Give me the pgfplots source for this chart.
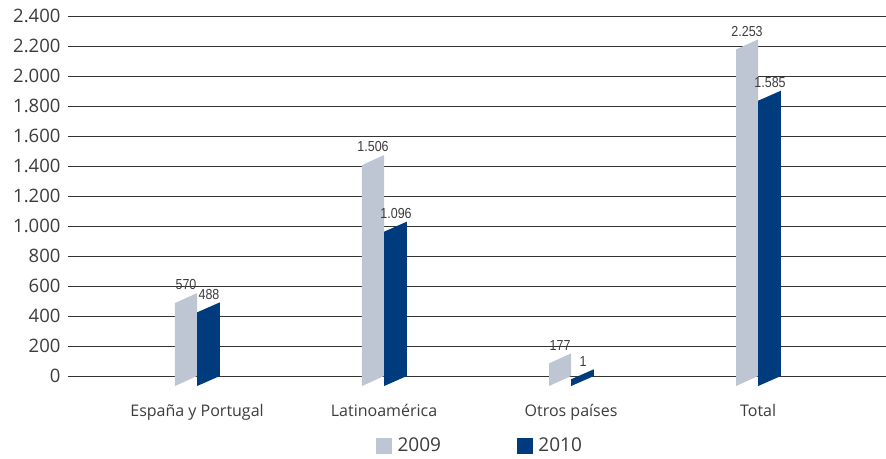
\documentclass[border=0pt]{standalone}
\usepackage{fontspec}
\setmainfont{Open Sans}
\newfontfamily\condfont[FakeStretch=0.86]{Liberation Sans}
\usepackage{pgfplots}
\usepackage{pgfplotstable}
\pgfplotsset{compat=1.18}
\definecolor{cgray}{HTML}{BEC6D4}
\definecolor{cblue}{HTML}{003C7D}
\definecolor{gridc}{HTML}{333333}
\definecolor{txt}{HTML}{3C3C3C}

% bar heights as drawn in the picture, and the printed labels
\pgfplotstableread{
idx h2009 h2010 l2009 l2010
0 553 491 570 488
1 1473 1029 1.506 1.096
2 151 45 177 1
3 2244 1902 2.253 1.585
}\data

\begin{document}
\begin{tikzpicture}[x=1pt,y=1pt]
\useasboundingbox (0,0) rectangle (886,458);
\begin{axis}[
  at={(68pt,82pt)}, anchor=south west,
  scale only axis, width=818pt, height=360pt,
  xmin=-0.69, xmax=3.684, ymin=0, ymax=2400,
  clip=false,
  axis line style={draw=none},
  major tick length=0pt,
  ytick={0,200,...,2400},
  ymajorgrids, grid style={gridc, line width=0.9pt},
  xtick={0,1,2,3},
  xticklabels={España y Portugal, Latinoamérica, Otros países, Total},
  xticklabel style={font=\fontsize{16}{18}\selectfont, text=txt, yshift=-25pt},
  yticklabel style={font=\fontsize{18.5}{20}\selectfont, text=txt, xshift=-4pt},
  scaled y ticks=false,
  /pgf/number format/assume math mode=true,
  /pgf/number format/1000 sep={.},
  legend columns=2,
  legend style={draw=none, fill=none, at={(0.5037,-0.193)}, anchor=center,
    font=\fontsize{19}{21}\selectfont, text=txt,
    /tikz/every even column/.append style={column sep=74pt}},
]
\pgfplotsinvokeforeach{0,1,2,3}{
  \pgfplotstablegetelem{#1}{h2009}\of\data
  \pgfmathsetmacro\va{\pgfplotsretval}
  \pgfmathsetmacro\vat{\va-67}
  \pgfmathsetmacro\xl{#1-0.118}
  \edef\tmp{\noexpand\addplot[fill=cgray, draw=none, forget plot] coordinates {(\xl,-67) (#1,0) (#1,\va) (\xl,\vat)} -- cycle;}
  \tmp
  \pgfplotstablegetelem{#1}{h2010}\of\data
  \pgfmathsetmacro\vb{\pgfplotsretval}
  \pgfmathsetmacro\vbt{\vb-67}
  \pgfmathsetmacro\xr{#1+0.122}
  \edef\tmp{\noexpand\addplot[fill=cblue, draw=none, forget plot] coordinates {(#1,-67) (\xr,0) (\xr,\vb) (#1,\vbt)} -- cycle;}
  \tmp
}
\addplot[draw=none, mark=none, forget plot, point meta=explicit symbolic, nodes near coords,
  nodes near coords style={font=\condfont\fontsize{14.5}{16}\selectfont, text=txt, anchor=south, inner sep=1pt, yshift=2pt}]
  table[x expr=\coordindex-0.059, y=h2009, meta=l2009] {\data};
\addplot[draw=none, mark=none, forget plot, point meta=explicit symbolic, nodes near coords,
  nodes near coords style={font=\condfont\fontsize{14.5}{16}\selectfont, text=txt, anchor=south, inner sep=1pt, yshift=2pt}]
  table[x expr=\coordindex+0.064, y=h2010, meta=l2010] {\data};
\addlegendimage{legend image code/.code={\fill[cgray] (0pt,-7.5pt) rectangle (15pt,7.5pt); \path (19pt,0pt);}}
\addlegendentry{2009}
\addlegendimage{legend image code/.code={\fill[cblue] (0pt,-7.5pt) rectangle (15pt,7.5pt); \path (19pt,0pt);}}
\addlegendentry{2010}
\end{axis}
\end{tikzpicture}
\end{document}
